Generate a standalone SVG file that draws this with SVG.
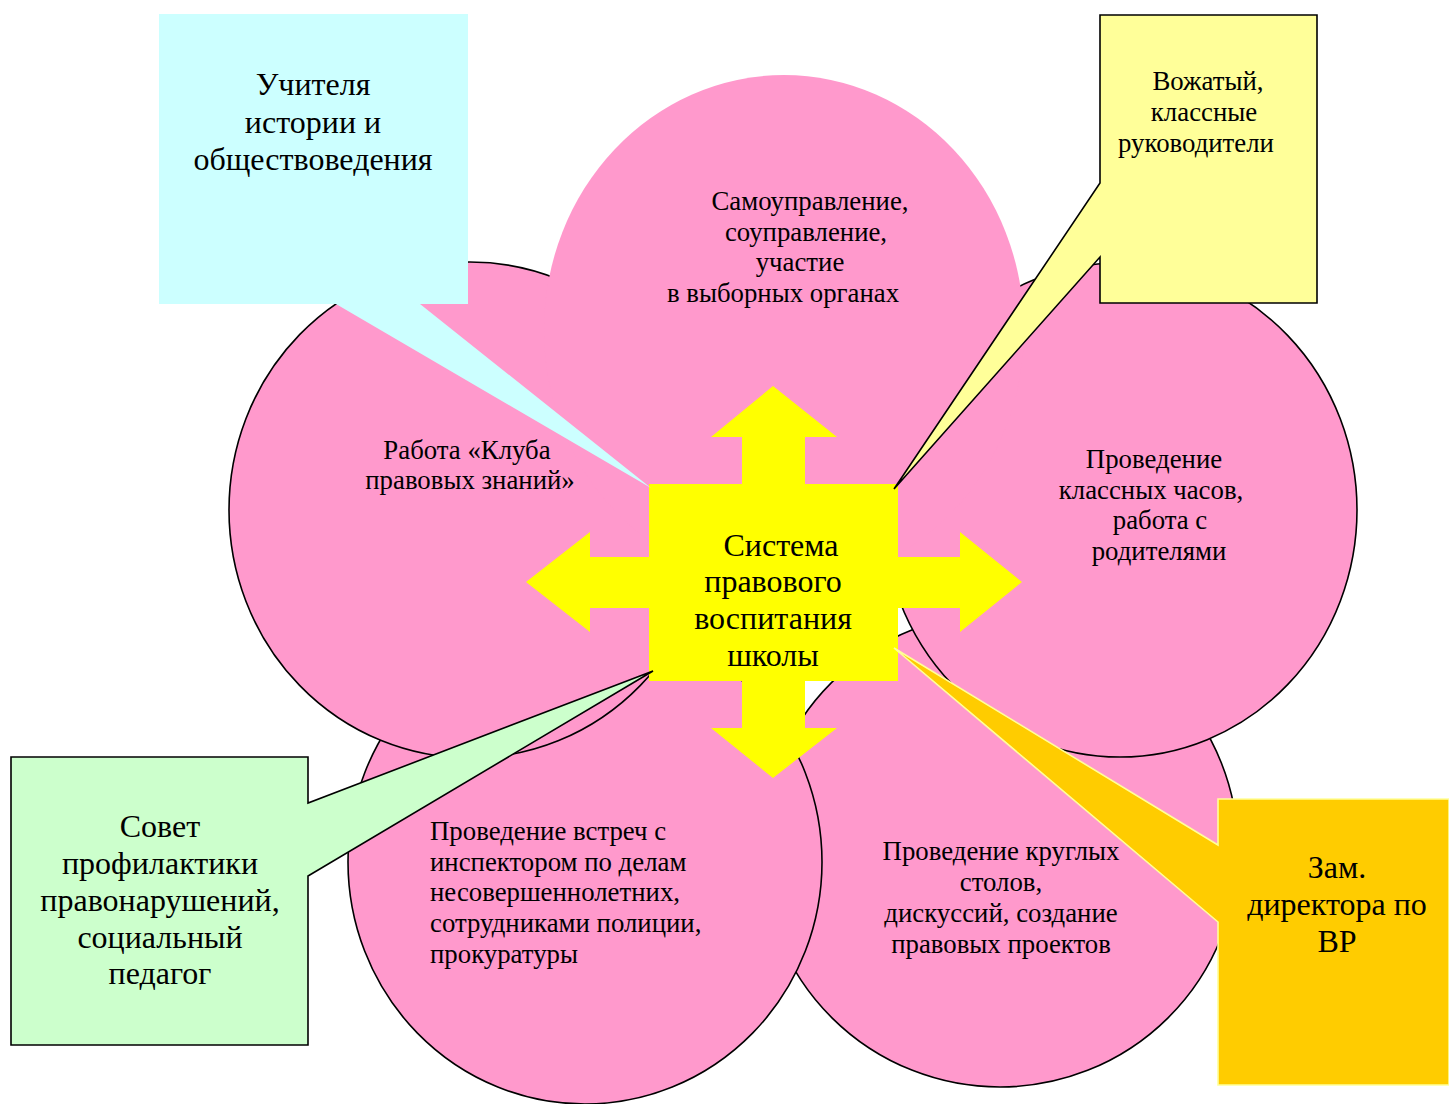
<svg xmlns="http://www.w3.org/2000/svg" width="1449" height="1104" viewBox="0 0 1449 1104">
<style>
.petal{fill:#FF99CC;stroke:#000;stroke-width:1.6}
.petal-top{fill:#FF99CC;stroke:none}
.t{font-family:"Liberation Serif","Times New Roman",serif;fill:#000}
.s{font-size:26.8px}
.b{font-size:32px}
.m{text-anchor:middle}
</style>
<rect width="1449" height="1104" fill="#fff"/>
<g id="petal-bottom-right">
<ellipse class="petal" cx="1000" cy="850" rx="238" ry="237"/>
<text class="t s m"><tspan x="1001" y="860">Проведение круглых</tspan><tspan x="1001" y="891">столов,</tspan><tspan x="1001" y="922">дискуссий, создание</tspan><tspan x="1001" y="953">правовых проектов</tspan></text>
</g>
<g id="petal-bottom-left">
<ellipse class="petal" cx="585" cy="862" rx="237" ry="242"/>
<text class="t s"><tspan x="430" y="840">Проведение встреч с</tspan><tspan x="430" y="871">инспектором по делам</tspan><tspan x="430" y="901">несовершеннолетних,</tspan><tspan x="430" y="932">сотрудниками полиции,</tspan><tspan x="430" y="963">прокуратуры</tspan></text>
</g>
<g id="petal-left">
<ellipse class="petal" cx="470" cy="510" rx="241" ry="248"/>
<text class="t s m"><tspan x="467" y="459">Работа «Клуба</tspan><tspan x="470" y="489">правовых знаний»</tspan></text>
</g>
<g id="petal-right">
<ellipse class="petal" cx="1120" cy="510" rx="237" ry="247"/>
<text class="t s m"><tspan x="1154" y="468">Проведение</tspan><tspan x="1151" y="499">классных часов,</tspan><tspan x="1160" y="529">работа с</tspan><tspan x="1159" y="560">родителями</tspan></text>
</g>
<g id="petal-top">
<ellipse class="petal-top" cx="784" cy="330" rx="240" ry="255"/>
<text class="t s m"><tspan x="810" y="210">Самоуправление,</tspan><tspan x="806" y="241">соуправление,</tspan><tspan x="800" y="271">участие</tspan><tspan x="783" y="302">в выборных органах</tspan></text>
</g>
<g id="center">
<path fill="#FFFF00" d="M649,484 H742 V437 H711 L773,386 L837,437 H805 V484 H898 V557 H960 V532 L1022,582 L960,632 V608 H898 V681 H805 V728 H837 L773,778 L711,728 H742 V681 H649 V608 H590 V632 L526,582 L590,532 V557 H649 Z"/>
<text class="t b m"><tspan x="781" y="556">Система</tspan><tspan x="773" y="592">правового</tspan><tspan x="773" y="629">воспитания</tspan><tspan x="773" y="666">школы</tspan></text>
</g>
<g id="connectors">
<g id="callout-teachers">
<path fill="#CCFFFF" d="M159,14 H468 V304 H420 L651,488 L336,304 H159 Z"/>
<text class="t b m"><tspan x="313" y="95">Учителя</tspan><tspan x="313" y="133">истории и</tspan><tspan x="313" y="170">обществоведения</tspan></text>
</g>
<g id="callout-leaders">
<path fill="#FFFF99" stroke="#000" stroke-width="1.6" stroke-linejoin="miter" d="M1100,15 H1317 V303 H1100 V257 L894,489 L1100,183 Z"/>
<text class="t s m"><tspan x="1208" y="90">Вожатый,</tspan><tspan x="1204" y="121">классные</tspan><tspan x="1196" y="152">руководители</tspan></text>
</g>
<g id="callout-council">
<path fill="#CCFFCC" stroke="#000" stroke-width="1.6" d="M11,757 H308 V803 L653,671 L308,876 V1045 H11 Z"/>
<text class="t b m"><tspan x="160" y="837">Совет</tspan><tspan x="160" y="874">профилактики</tspan><tspan x="160" y="911">правонарушений,</tspan><tspan x="160" y="948">социальный</tspan><tspan x="160" y="984">педагог</tspan></text>
</g>
<g id="callout-deputy">
<path fill="#FFCC00" stroke="#FFFF99" stroke-width="1.6" d="M1218,799 H1449 V1085 H1218 V922 L894,648 L1218,845 Z"/>
<text class="t b m"><tspan x="1337" y="878">Зам.</tspan><tspan x="1337" y="915">директора по</tspan><tspan x="1337" y="952">ВР</tspan></text>
</g>
</g>
</svg>
